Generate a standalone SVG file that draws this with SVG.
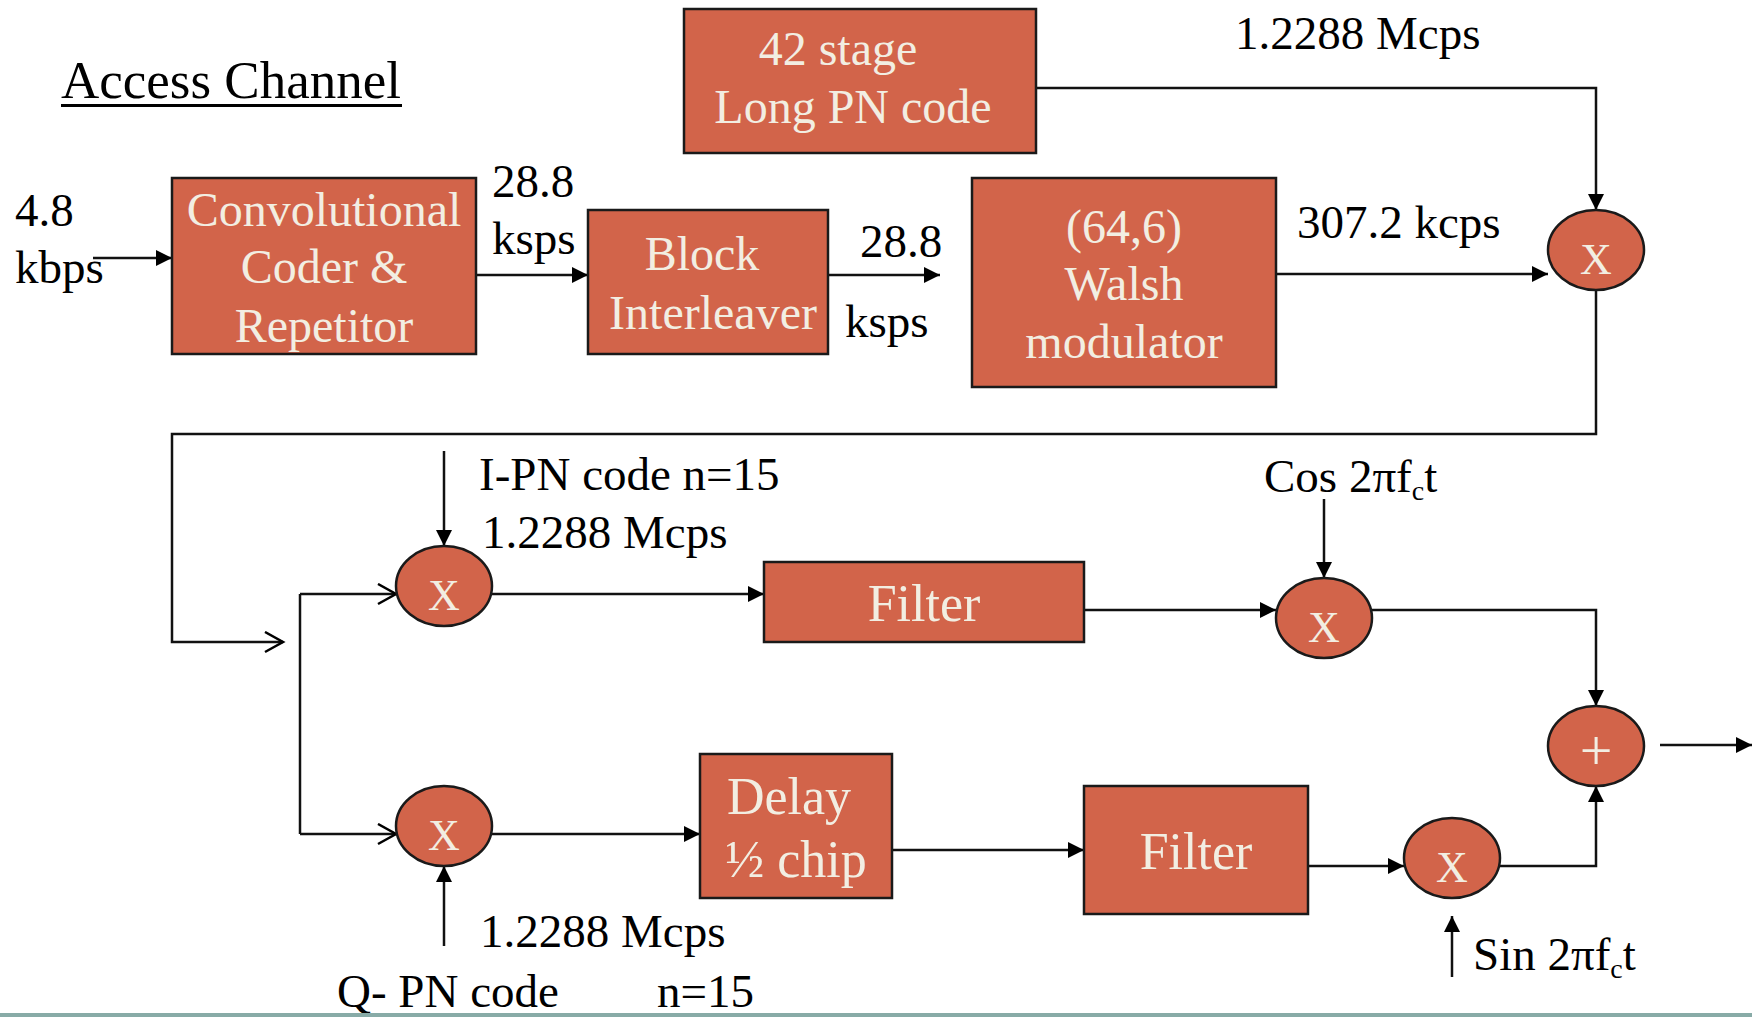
<svg xmlns="http://www.w3.org/2000/svg" width="1752" height="1017" viewBox="0 0 1752 1017">
  <style>
    .box { fill: #D2644A; stroke: #1a1a1a; stroke-width: 2.5; }
    .op { fill: #D2644A; stroke: #1a1a1a; stroke-width: 2.5; }
    .in { font-family: "Liberation Serif", "Times New Roman", serif; fill: #F2EEE2; text-anchor: middle; }
    .x { font-size: 44px; }
    .lbl { font-family: "Liberation Serif", "Times New Roman", serif; fill: #000; font-size: 47px; }
    .wire { fill: none; stroke: #111; stroke-width: 2.5; }
    .arrow { marker-end: url(#head); }
    .open { marker-end: url(#chev); }
  </style>
  <defs>
    <marker id="head" markerUnits="userSpaceOnUse" markerWidth="18" markerHeight="16" refX="16" refY="8" orient="auto">
      <path d="M0,0 L16,8 L0,16 z" fill="#000"/>
    </marker>
    <marker id="chev" markerUnits="userSpaceOnUse" markerWidth="22" markerHeight="24" refX="19" refY="11" orient="auto">
      <path d="M1,1 L19,11 L1,21" fill="none" stroke="#000" stroke-width="2.5"/>
    </marker>
  </defs>

  <rect x="0" y="0" width="1752" height="1017" fill="#fff"/>

  <!-- title -->
  <g id="title">
    <text x="61" y="98" class="lbl" style="font-size:53px">Access Channel</text>
    <rect x="61" y="104" width="341" height="3" fill="#000"/>
  </g>

  <!-- connectors -->
  <g id="connectors">
    <path class="wire arrow" d="M93,258 H172"/>
    <path class="wire arrow" d="M476,275 H588"/>
    <path class="wire arrow" d="M828,275 H940"/>
    <path class="wire arrow" d="M1036,88 H1596 V210"/>
    <path class="wire arrow" d="M1276,274 H1548"/>
    <path class="wire open" d="M1596,290 V434 H172 V642 H283"/>
    <path class="wire" d="M300,594 V834"/>
    <path class="wire open" d="M300,594 H396"/>
    <path class="wire open" d="M300,834 H396"/>
    <path class="wire arrow" d="M444,451 V546"/>
    <path class="wire arrow" d="M444,946 V866"/>
    <path class="wire arrow" d="M492,594 H764"/>
    <path class="wire arrow" d="M1084,610 H1276"/>
    <path class="wire arrow" d="M1324,499 V578"/>
    <path class="wire arrow" d="M1372,610 H1596 V706"/>
    <path class="wire arrow" d="M492,834 H700"/>
    <path class="wire arrow" d="M892,850 H1084"/>
    <path class="wire arrow" d="M1308,866 H1404"/>
    <path class="wire arrow" d="M1452,977 V916"/>
    <path class="wire arrow" d="M1500,866 H1596 V786"/>
    <path class="wire arrow" d="M1660,745 H1752"/>
  </g>

  <!-- blocks -->
  <g id="conv-coder">
    <rect class="box" x="172" y="178" width="304" height="176"/>
    <text class="in" x="324" y="226" font-size="48">Convolutional</text>
    <text class="in" x="324" y="283" font-size="48">Coder &amp;</text>
    <text class="in" x="324" y="342" font-size="48">Repetitor</text>
  </g>
  <g id="block-interleaver">
    <rect class="box" x="588" y="210" width="240" height="144"/>
    <text class="in" x="702" y="270" font-size="48">Block</text>
    <text class="in" x="713" y="329" font-size="48">Interleaver</text>
  </g>
  <g id="long-pn">
    <rect class="box" x="684" y="9" width="352" height="144"/>
    <text class="in" x="838" y="65" font-size="48">42 stage</text>
    <text class="in" x="853" y="123" font-size="48">Long PN code</text>
  </g>
  <g id="walsh">
    <rect class="box" x="972" y="178" width="304" height="209"/>
    <text class="in" x="1124" y="243" font-size="48">(64,6)</text>
    <text class="in" x="1124" y="300" font-size="48">Walsh</text>
    <text class="in" x="1124" y="358" font-size="48">modulator</text>
  </g>
  <g id="filter-i">
    <rect class="box" x="764" y="562" width="320" height="80"/>
    <text class="in" x="924" y="621" font-size="52">Filter</text>
  </g>
  <g id="delay">
    <rect class="box" x="700" y="754" width="192" height="144"/>
    <text class="in" x="789" y="814" font-size="52">Delay</text>
    <text class="in" x="796" y="877" font-size="52">½ chip</text>
  </g>
  <g id="filter-q">
    <rect class="box" x="1084" y="786" width="224" height="128"/>
    <text class="in" x="1196" y="869" font-size="52">Filter</text>
  </g>

  <!-- operators -->
  <g id="mix-long">
    <ellipse class="op" cx="1596" cy="250" rx="48" ry="40"/>
    <text class="in x" x="1596" y="274">X</text>
  </g>
  <g id="mix-i">
    <ellipse class="op" cx="444" cy="586" rx="48" ry="40"/>
    <text class="in x" x="444" y="610">X</text>
  </g>
  <g id="mix-q">
    <ellipse class="op" cx="444" cy="826" rx="48" ry="40"/>
    <text class="in x" x="444" y="850">X</text>
  </g>
  <g id="mix-cos">
    <ellipse class="op" cx="1324" cy="618" rx="48" ry="40"/>
    <text class="in x" x="1324" y="642">X</text>
  </g>
  <g id="mix-sin">
    <ellipse class="op" cx="1452" cy="858" rx="48" ry="40"/>
    <text class="in x" x="1452" y="882">X</text>
  </g>
  <g id="sum">
    <ellipse class="op" cx="1596" cy="746" rx="48" ry="40"/>
    <text class="in" x="1596" y="770" font-size="58">+</text>
  </g>

  <!-- labels -->
  <g id="labels">
    <text class="lbl" x="15" y="226">4.8</text>
    <text class="lbl" x="15" y="283">kbps</text>
    <text class="lbl" x="492" y="197">28.8</text>
    <text class="lbl" x="492" y="254">ksps</text>
    <text class="lbl" x="860" y="257">28.8</text>
    <text class="lbl" x="845" y="337">ksps</text>
    <text class="lbl" x="1235" y="49">1.2288 Mcps</text>
    <text class="lbl" x="1297" y="238">307.2 kcps</text>
    <text class="lbl" x="479" y="490">I-PN code n=15</text>
    <text class="lbl" x="482" y="548">1.2288 Mcps</text>
    <text class="lbl" x="1264" y="492">Cos 2πf<tspan font-size="28" dy="8">c</tspan><tspan dy="-8">t</tspan></text>
    <text class="lbl" x="1473" y="970">Sin 2πf<tspan font-size="28" dy="8">c</tspan><tspan dy="-8">t</tspan></text>
    <text class="lbl" x="480" y="947">1.2288 Mcps</text>
    <text class="lbl" x="337" y="1007">Q- PN code</text>
    <text class="lbl" x="657" y="1007">n=15</text>
  </g>

  <rect x="0" y="1013" width="1752" height="4" fill="#88aba7"/>
</svg>
